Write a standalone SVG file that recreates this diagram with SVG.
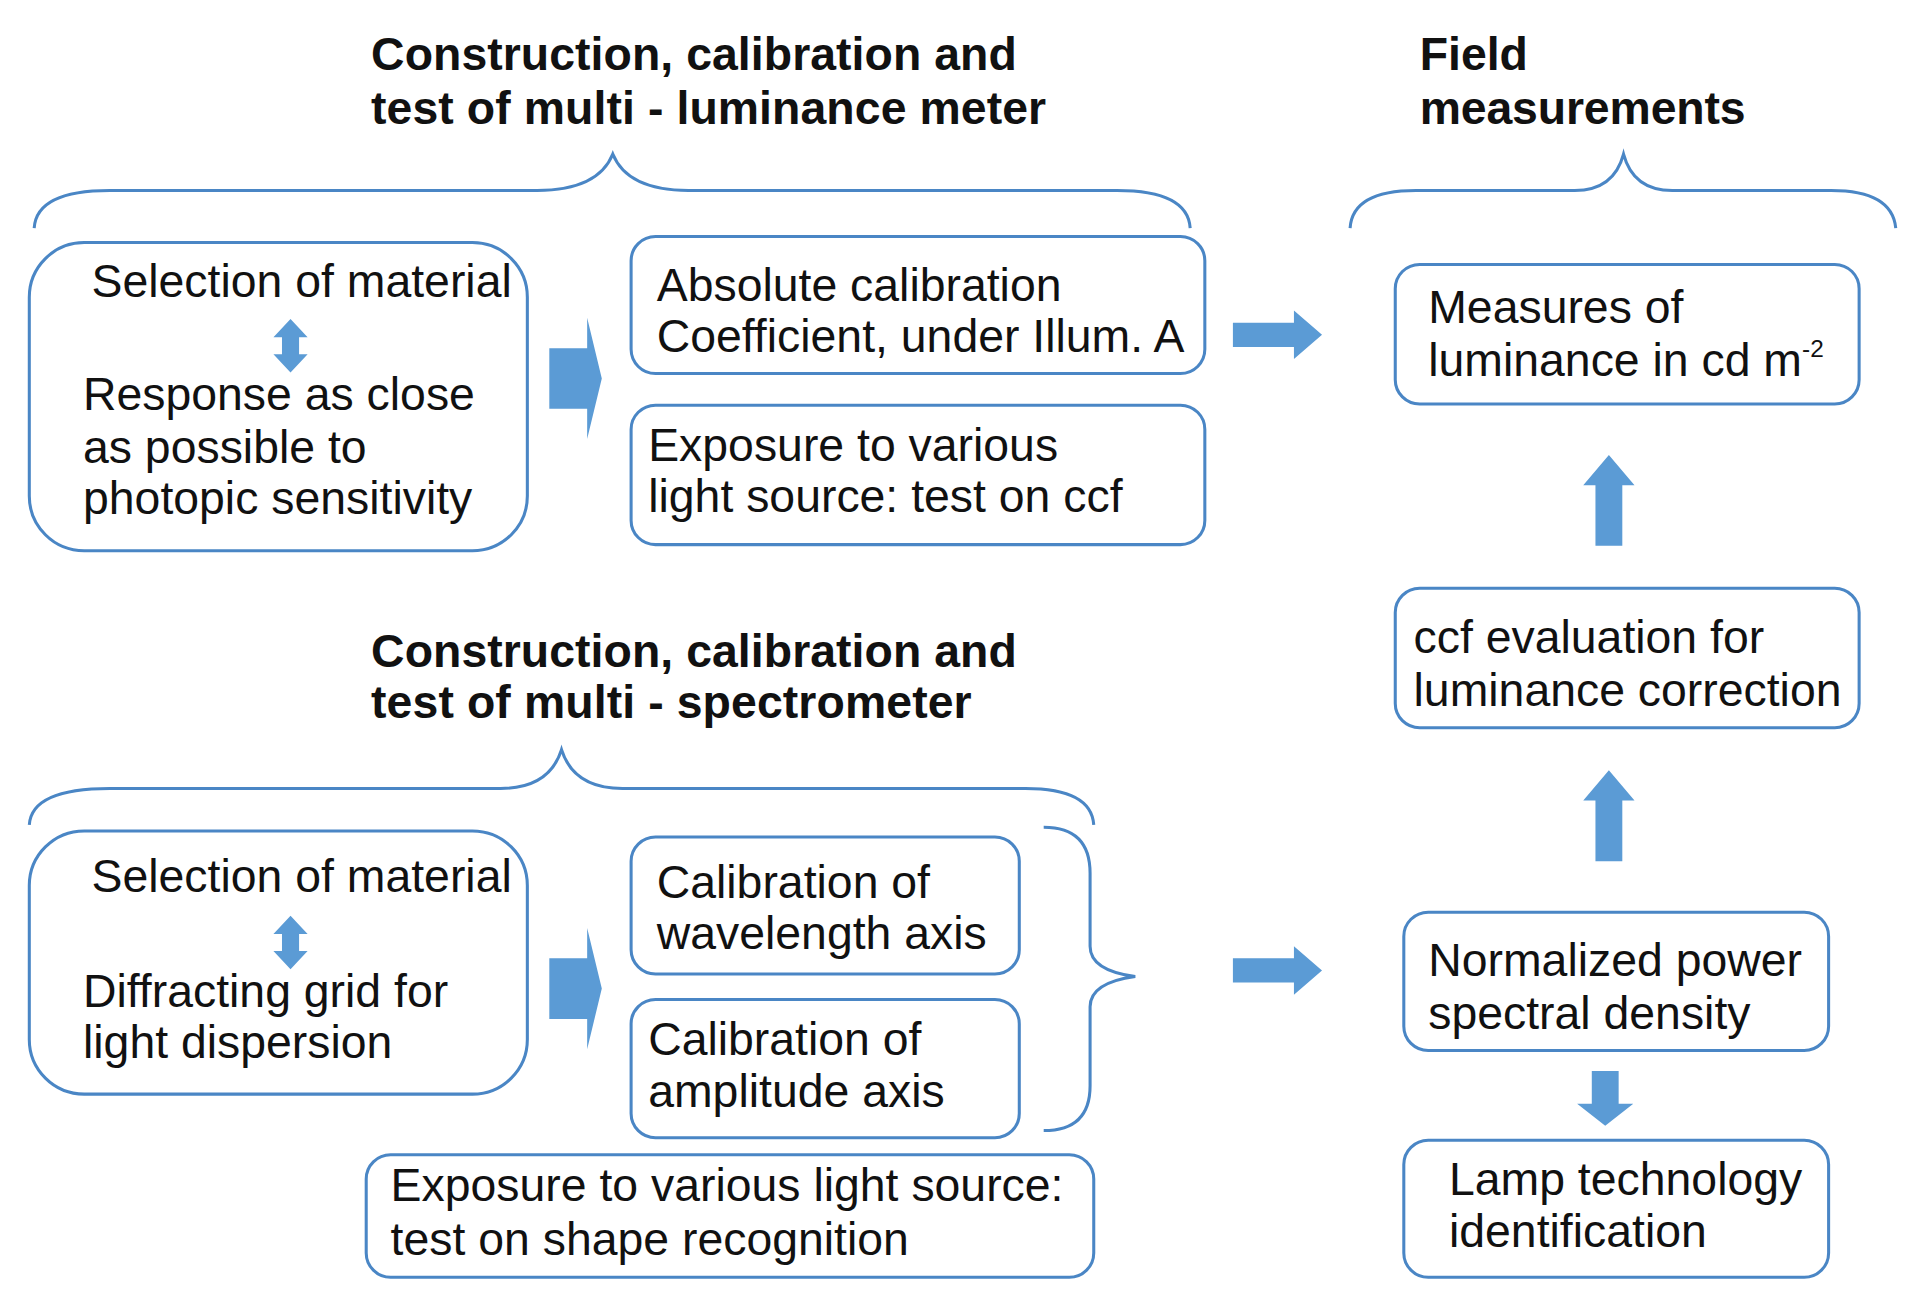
<svg xmlns="http://www.w3.org/2000/svg" width="1914" height="1310" viewBox="0 0 1914 1310">
<style>
.b{fill:#fff;stroke:#4a86c5;stroke-width:2.5}
.t{font-family:"Liberation Sans",Arial,sans-serif;font-size:38px;fill:#111}
.h{font-family:"Liberation Sans",Arial,sans-serif;font-size:38px;font-weight:bold;fill:#111}
.br{fill:none;stroke:#4a86c5;stroke-width:2.5}
.a{fill:#5b9bd5}
</style>
<rect width="1914" height="1310" fill="#fff"/>
<g transform="scale(1.2207 1.213)">
<g id="headers">
<text class="h" x="304" y="58" textLength="529">Construction, calibration and</text>
<text class="h" x="304" y="102" textLength="553">test of multi - luminance meter</text>
<text class="h" x="1163" y="58">Field</text>
<text class="h" x="1163" y="102" textLength="267">measurements</text>
<text class="h" x="304" y="550" textLength="529">Construction, calibration and</text>
<text class="h" x="304" y="592" textLength="492">test of multi - spectrometer</text>
</g>
<g id="boxA"><rect class="b" x="24" y="200" width="408" height="254" rx="45"/>
<text class="t" x="75" y="245">Selection of material</text>
<text class="t" x="68" y="338">Response as close</text>
<text class="t" x="68" y="382">as possible to</text>
<text class="t" x="68" y="424">photopic sensitivity</text></g>
<g id="boxB"><rect class="b" x="517" y="195" width="470" height="113" rx="20"/>
<text class="t" x="538" y="248">Absolute calibration</text>
<text class="t" x="538" y="290">Coefficient, under Illum. A</text></g>
<g id="boxC"><rect class="b" x="517" y="334" width="470" height="115" rx="20"/>
<text class="t" x="531" y="380">Exposure to various</text>
<text class="t" x="531" y="422">light source: test on ccf</text></g>
<g id="boxD"><rect class="b" x="1143" y="218" width="380" height="115" rx="20"/>
<text class="t" x="1170" y="266">Measures of</text>
<text class="t" x="1170" y="310">luminance in cd m<tspan font-size="20" dy="-16">-2</tspan></text></g>
<g id="boxE"><rect class="b" x="1143" y="485" width="380" height="115" rx="20"/>
<text class="t" x="1158" y="538">ccf evaluation for</text>
<text class="t" x="1158" y="582">luminance correction</text></g>
<g id="boxF"><rect class="b" x="24" y="685" width="408" height="217" rx="45"/>
<text class="t" x="75" y="735">Selection of material</text>
<text class="t" x="68" y="830">Diffracting grid for</text>
<text class="t" x="68" y="872">light dispersion</text></g>
<g id="boxG"><rect class="b" x="517" y="690" width="318" height="113" rx="20"/>
<text class="t" x="538" y="740">Calibration of</text>
<text class="t" x="538" y="782">wavelength axis</text></g>
<g id="boxH"><rect class="b" x="517" y="824" width="318" height="114" rx="20"/>
<text class="t" x="531" y="870">Calibration of</text>
<text class="t" x="531" y="913">amplitude axis</text></g>
<g id="boxI"><rect class="b" x="1150" y="752" width="348" height="114" rx="20"/>
<text class="t" x="1170" y="805">Normalized power</text>
<text class="t" x="1170" y="848">spectral density</text></g>
<g id="boxJ"><rect class="b" x="1150" y="940" width="348" height="113" rx="20"/>
<text class="t" x="1187" y="985">Lamp technology</text>
<text class="t" x="1187" y="1028">identification</text></g>
<g id="boxK"><rect class="b" x="300" y="952" width="596" height="101" rx="20"/>
<text class="t" x="320" y="990">Exposure to various light source:</text>
<text class="t" x="320" y="1035">test on shape recognition</text></g>
<g id="connectors">
<path class="br" d="M28,188 Q30,157 90,157 L440,157 Q490,157 502,127 Q514,157 564,157 L915,157 Q973,157 975,188"/>
<path class="br" d="M1106,188 Q1108,157 1160,157 L1290,157 Q1322,157 1330,127 Q1338,157 1370,157 L1500,157 Q1550,157 1553,188"/>
<path class="br" d="M24,680 Q26,650 90,650 L410,650 Q450,650 460,618 Q470,650 510,650 L840,650 Q894,650 896,680"/>
<path class="br" d="M855,682 Q893,682 893,720 L893,780 Q893,800 930,805 Q893,810 893,830 L893,895 Q893,932 855,932" stroke-width="1.5"/>
<polygon class="a" points="224,278 238,263 252,278 245,278 245,292 252,292 238,307 224,292 231,292 231,278"/>
<polygon class="a" points="224,770 238,755 252,770 245,770 245,784 252,784 238,799 224,784 231,784 231,770"/>
<polygon class="a" points="450,287 481,287 481,262 493,312 481,362 481,337 450,337"/>
<polygon class="a" points="450,790 481,790 481,765 493,815 481,865 481,840 450,840"/>
<polygon class="a" points="1010,266 1060,266 1060,256 1083,276 1060,296 1060,286 1010,286"/>
<polygon class="a" points="1010,790 1060,790 1060,780 1083,800 1060,820 1060,810 1010,810"/>
<polygon class="a" points="1307,450 1307,400 1297,400 1318,375 1339,400 1329,400 1329,450"/>
<polygon class="a" points="1307,710 1307,660 1297,660 1318,635 1339,660 1329,660 1329,710"/>
<polygon class="a" points="1304,883 1326,883 1326,910 1338,910 1315,928 1292,910 1304,910"/>
</g>
</g>
</svg>
